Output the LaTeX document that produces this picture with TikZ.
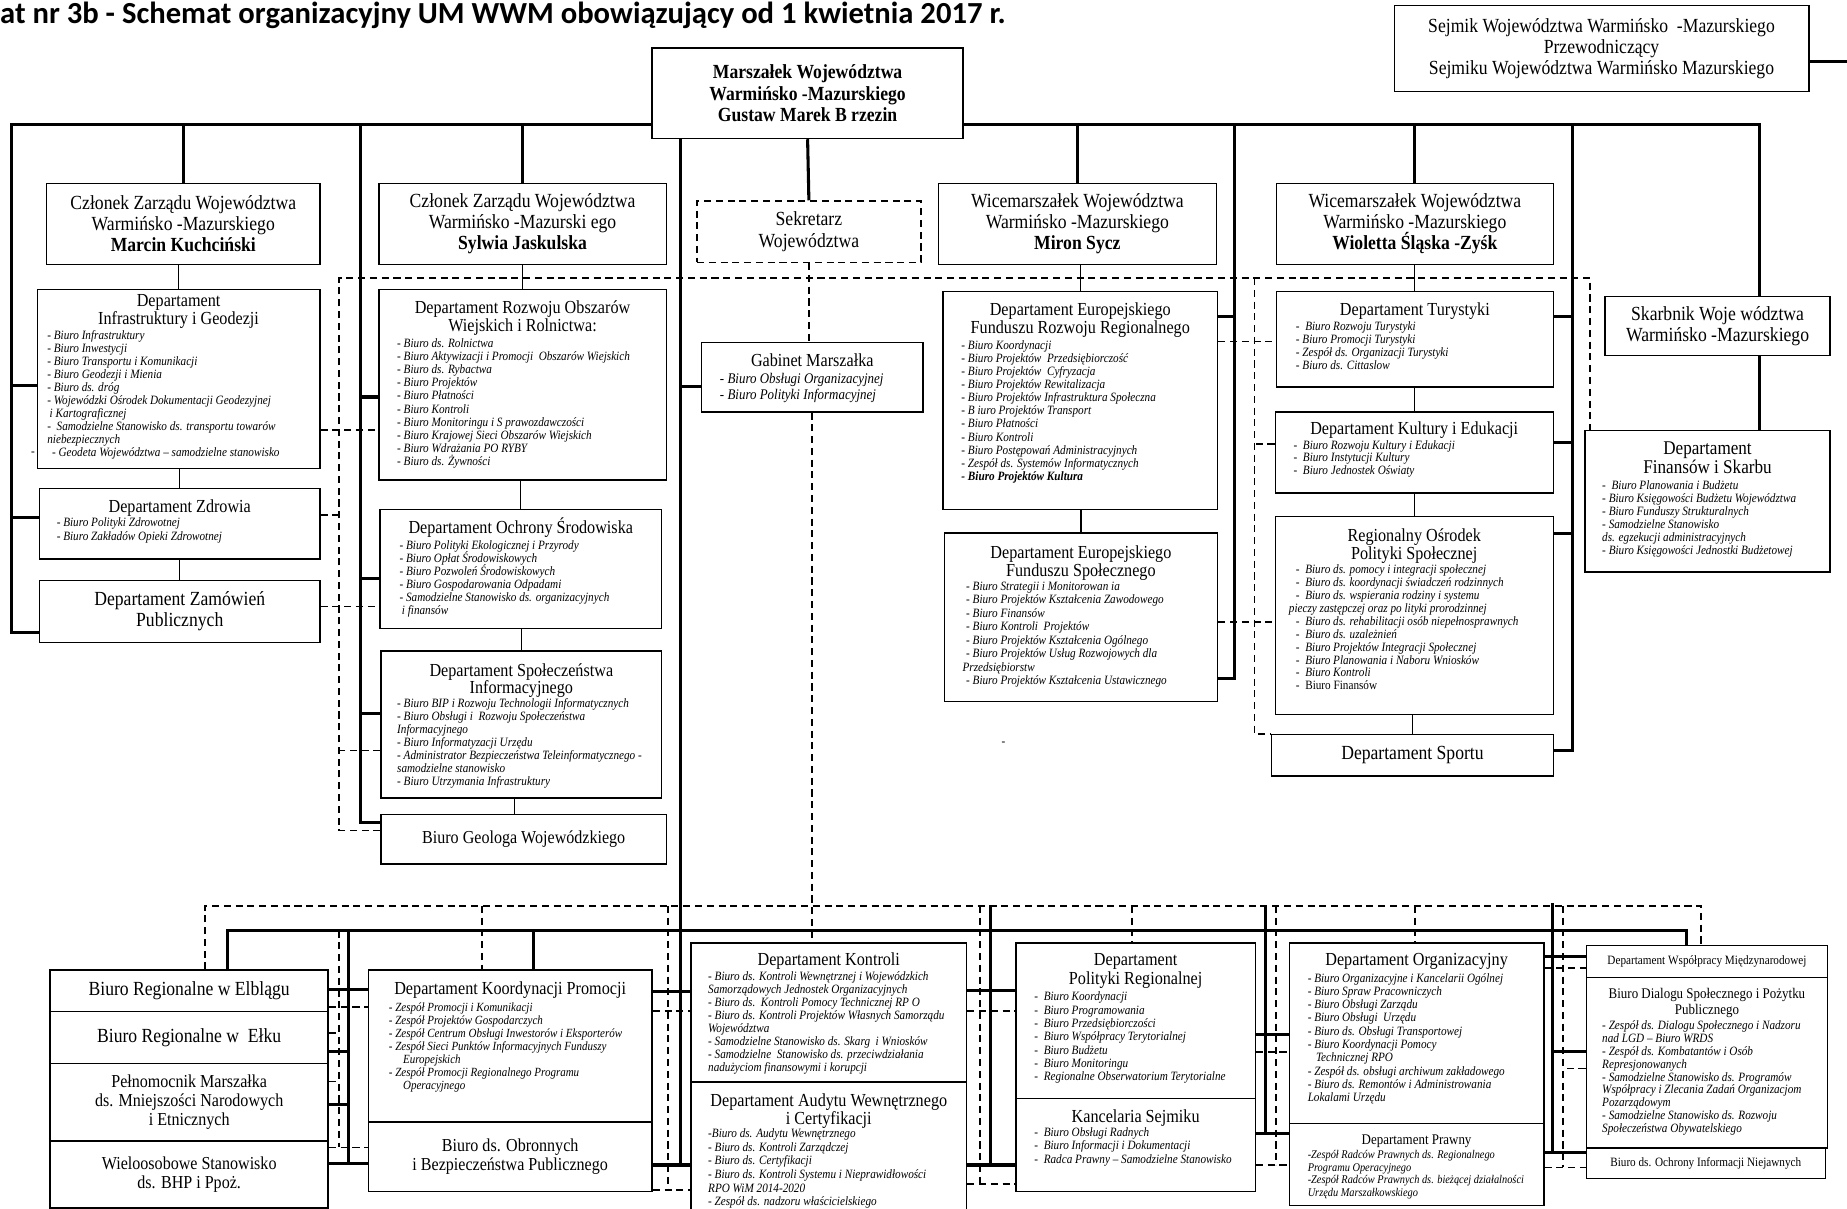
\documentclass[tikz,border=0pt]{standalone}
\usepackage{fontspec}
\setmainfont{Liberation Serif}[FakeStretch=0.88]
\newfontfamily\carlito{Carlito}
\usepackage{tikz}
\lineskiplimit=-100pt

\tikzset{
	box/.style = {draw, line width=1.2pt, inner sep=0pt, anchor=north west},
	person/.style = {box, align=center, font=\fontsize{17}{18}\selectfont},
	dept/.style = {box, align=center, font=\fontsize{15.5}{16}\selectfont},
	ttl/.style = {inner sep=0pt, anchor=north, align=center, font=\fontsize{15.6}{15}\selectfont},
	lst/.style = {inner sep=0pt, anchor=north west, align=left, font=\fontsize{10.8}{11.2}\selectfont\itshape},
	bar/.style = {line width=2.6pt},
	link/.style = {line width=1.1pt},
	dashline/.style = {line width=1.4pt, dash pattern=on 6pt off 4pt}
}

\begin{document}
\begin{tikzpicture}[x=1pt, y=1pt]
	\useasboundingbox (0,0) rectangle (1568,-1026);
	\fill[white] (0,0) rectangle (1568,-1026);

	\node[anchor=base west, inner sep=0pt, font=\carlito\bfseries\fontsize{26}{30}\selectfont] (title) at (0,-20) {at nr 3b - Schemat organizacyjny UM WWM obowiązujący od 1 kwietnia 2017 r.};

	\node[person, minimum width=352, minimum height=73] (sejmik) at (1183,-4) {Sejmik Województwa Warmińsko\ \ -Mazurskiego\\Przewodniczący\\Sejmiku Województwa Warmińsko Mazurskiego};
	\node[person, font=\fontsize{17}{18}\selectfont\bfseries, minimum width=264, minimum height=77] (marsz) at (553,-40) {Marszałek Województwa\\Warmińsko -Mazurskiego\\Gustaw Marek B rzezin};
	\node[person, minimum width=232, minimum height=69] (czl1) at (39,-155) {Członek Zarządu Województwa\\Warmińsko -Mazurskiego\\\textbf{Marcin Kuchciński}};
	\node[person, minimum width=244, minimum height=69] (czl2) at (321,-155) {Członek Zarządu Województwa\\Warmińsko -Mazurski ego\\\textbf{Sylwia Jaskulska}};
	\node[person, dashline, minimum width=190, minimum height=52] (sekr) at (591,-170) {Sekretarz\\Województwa};
	\node[person, minimum width=236, minimum height=69] (wice1) at (796,-155) {Wicemarszałek Województwa\\Warmińsko -Mazurskiego\\\textbf{Miron Sycz}};
	\node[person, minimum width=235, minimum height=69] (wice2) at (1083,-155) {Wicemarszałek Województwa\\Warmińsko -Mazurskiego\\\textbf{Wioletta Śląska -Zyśk}};
	\node[person, minimum width=191, minimum height=50] (skarb) at (1362,-251) {Skarbnik Woje wództwa\\Warmińsko -Mazurskiego};

	\node[box, minimum width=240, minimum height=152] (infra) at (31,-245) {};
	\node[ttl] (infra-t) at ([yshift=-5]infra.north) {Departament\\Infrastruktury i Geodezji};
	\node[lst, font=\fontsize{10.8}{11.1}\selectfont\itshape] (infra-l) at ([xshift=9,yshift=-35]infra.north west) {- Biuro Infrastruktury\\- Biuro Inwestycji\\- Biuro Transportu i Komunikacji\\- Biuro Geodezji i Mienia\\- Biuro ds. dróg\\- Wojewódzki Ośrodek Dokumentacji Geodezyjnej\\\hspace*{2pt}i Kartograficznej\\-\ \ Samodzielne Stanowisko ds. transportu towarów\\niebezpiecznych\\\hspace*{4pt}- Geodeta Województwa – samodzielne stanowisko};
	\node[inner sep=0pt, font=\fontsize{10.8}{11}\selectfont] (art1) at (28,-385) {-};
	\node[box, minimum width=238, minimum height=60] (zdrow) at (33,-414) {};
	\node[ttl] (zdrow-t) at ([yshift=-10]zdrow.north) {Departament Zdrowia};
	\node[lst, font=\fontsize{10.8}{12}\selectfont\itshape] (zdrow-l) at ([xshift=15,yshift=-25]zdrow.north west) {- Biuro Polityki Zdrowotnej\\- Biuro Zakładów Opieki Zdrowotnej};
	\node[person, minimum width=238, minimum height=53] (zamow) at (33,-492) {Departament Zamówień\\Publicznych};

	\node[box, minimum width=244, minimum height=162] (rozw) at (321,-245) {};
	\node[ttl] (rozw-t) at ([yshift=-10]rozw.north) {Departament Rozwoju Obszarów\\Wiejskich i Rolnictwa:};
	\node[lst] (rozw-l) at ([xshift=16,yshift=-42]rozw.north west) {- Biuro ds. Rolnictwa\\- Biuro Aktywizacji i Promocji\ \ Obszarów Wiejskich\\- Biuro ds. Rybactwa\\- Biuro Projektów\\- Biuro Płatności\\- Biuro Kontroli\\- Biuro Monitoringu i S prawozdawczości\\- Biuro Krajowej Sieci Obszarów Wiejskich\\- Biuro Wdrażania PO RYBY\\- Biuro ds. Żywności};
	\node[box, minimum width=239, minimum height=101] (ochr) at (322,-432) {};
	\node[ttl] (ochr-t) at ([yshift=-7]ochr.north) {Departament Ochrony Środowiska};
	\node[lst, font=\fontsize{10.8}{11}\selectfont\itshape] (ochr-l) at ([xshift=17,yshift=-27]ochr.north west) {- Biuro Polityki Ekologicznej i Przyrody\\- Biuro Opłat Środowiskowych\\- Biuro Pozwoleń Środowiskowych\\- Biuro Gospodarowania Odpadami\\- Samodzielne Stanowisko ds. organizacyjnych\\\hspace*{2pt}i finansów};
	\node[box, minimum width=238, minimum height=125] (spol) at (323,-552) {};
	\node[ttl] (spol-t) at ([yshift=-11]spol.north) {Departament Społeczeństwa\\Informacyjnego};
	\node[lst, font=\fontsize{10.8}{11}\selectfont\itshape] (spol-l) at ([xshift=14,yshift=-41]spol.north west) {- Biuro BIP i Rozwoju Technologii Informatycznych\\- Biuro Obsługi i\ \ Rozwoju Społeczeństwa\\Informacyjnego\\- Biuro Informatyzacji Urzędu\\- Administrator Bezpieczeństwa Teleinformatycznego -\\samodzielne stanowisko\\- Biuro Utrzymania Infrastruktury};
	\node[dept, minimum width=242, minimum height=42] (geol) at (323,-691) {Biuro Geologa Wojewódzkiego};

	\node[box, minimum width=188, minimum height=59] (gab) at (595,-290) {};
	\node[ttl] (gab-t) at ([yshift=-10]gab.north) {Gabinet Marszałka};
	\node[lst, font=\fontsize{12.5}{13}\selectfont\itshape] (gab-l) at ([xshift=16,yshift=-27]gab.north west) {- Biuro Obsługi Organizacyjnej\\- Biuro Polityki Informacyjnej};

	\node[box, minimum width=233, minimum height=185] (efrr) at (800,-247) {};
	\node[ttl] (efrr-t) at ([yshift=-10]efrr.north) {Departament Europejskiego\\Funduszu Rozwoju Regionalnego};
	\node[lst, font=\fontsize{10.8}{11.1}\selectfont\itshape] (efrr-l) at ([xshift=16,yshift=-42]efrr.north west) {- Biuro Koordynacji\\- Biuro Projektów\ \ Przedsiębiorczość\\- Biuro Projektów\ \ Cyfryzacja\\- Biuro Projektów Rewitalizacja\\- Biuro Projektów Infrastruktura Społeczna\\- B iuro Projektów Transport\\- Biuro Płatności\\- Biuro Kontroli\\- Biuro Postępowań Administracyjnych\\- Zespół ds. Systemów Informatycznych\\{\bfseries - Biuro Projektów Kultura}};
	\node[box, minimum width=232, minimum height=143] (efs) at (801,-452) {};
	\node[ttl] (efs-t) at ([yshift=-11]efs.north) {Departament Europejskiego\\Funduszu Społecznego};
	\node[lst, font=\fontsize{10.8}{11.4}\selectfont\itshape] (efs-l) at ([xshift=19,yshift=-42]efs.north west) {- Biuro Strategii i Monitorowan ia\\- Biuro Projektów Kształcenia Zawodowego\\- Biuro Finansów\\- Biuro Kontroli\ \ Projektów\\- Biuro Projektów Kształcenia Ogólnego\\- Biuro Projektów Usług Rozwojowych dla\\\hspace*{-3pt}Przedsiębiorstw\\- Biuro Projektów Kształcenia Ustawicznego};
	\node[inner sep=0pt, font=\fontsize{10.8}{11}\selectfont] (art2) at (852,-631) {-};

	\node[box, minimum width=235, minimum height=81] (tur) at (1083,-247) {};
	\node[ttl] (tur-t) at ([yshift=-10]tur.north) {Departament Turystyki};
	\node[lst, font=\fontsize{10.8}{11}\selectfont\itshape] (tur-l) at ([xshift=17,yshift=-26]tur.north west) {-\ \ Biuro Rozwoju Turystyki\\- Biuro Promocji Turystyki\\- Zespół ds. Organizacji Turystyki\\- Biuro ds. Cittaslow};
	\node[box, minimum width=236, minimum height=69] (kult) at (1082,-349) {};
	\node[ttl] (kult-t) at ([yshift=-9]kult.north) {Departament Kultury i Edukacji};
	\node[lst, font=\fontsize{10.8}{10.5}\selectfont\itshape] (kult-l) at ([xshift=16,yshift=-25]kult.north west) {-\ \ Biuro Rozwoju Kultury i Edukacji\\-\ \ Biuro Instytucji Kultury\\-\ \ Biuro Jednostek Oświaty};
	\node[box, minimum width=236, minimum height=168] (rops) at (1082,-438) {};
	\node[ttl] (rops-t) at ([yshift=-11]rops.north) {Regionalny Ośrodek\\Polityki Społecznej};
	\node[lst, font=\fontsize{10.8}{11}\selectfont\itshape] (rops-l) at ([xshift=18,yshift=-41]rops.north west) {-\ \ Biuro ds. pomocy i integracji społecznej\\-\ \ Biuro ds. koordynacji świadczeń rodzinnych\\-\ \ Biuro ds. wspierania rodziny i systemu\\\hspace*{-6pt}pieczy zastępczej oraz po lityki prorodzinnej\\-\ \ Biuro ds. rehabilitacji osób niepełnosprawnych\\-\ \ Biuro ds. uzależnień\\-\ \ Biuro Projektów Integracji Społecznej\\-\ \ Biuro Planowania i Naboru Wniosków\\-\ \ Biuro Kontroli\\{\upshape -\ \ Biuro Finansów}};
	\node[person, minimum width=239, minimum height=35] (sport) at (1079,-623) {Departament Sportu};

	\node[box, minimum width=208, minimum height=120] (finans) at (1345,-365) {};
	\node[ttl, font=\fontsize{16.5}{16}\selectfont] (finans-t) at ([yshift=-10]finans.north) {Departament\\Finansów i Skarbu};
	\node[lst, font=\fontsize{10.8}{11}\selectfont\itshape] (finans-l) at ([xshift=15,yshift=-43]finans.north west) {-\ \ Biuro Planowania i Budżetu\\- Biuro Księgowości Budżetu Województwa\\- Biuro Funduszy Strukturalnych\\- Samodzielne Stanowisko\\ds. egzekucji administracyjnych\\- Biuro Księgowości Jednostki Budżetowej};

	\node[person, minimum width=236, minimum height=35] (elb) at (42,-823) {Biuro Regionalne w Elblągu};
	\node[person, minimum width=236, minimum height=44] (elk) at (42,-858) {Biuro Regionalne w\ \ Ełku};
	\node[dept, minimum width=236, minimum height=66] (peln) at (42,-902) {Pełnomocnik Marszałka\\ds. Mniejszości Narodowych\\i Etnicznych};
	\node[dept, minimum width=236, minimum height=57] (bhp) at (42,-968) {Wieloosobowe Stanowisko\\ds. BHP i Ppoż.};

	\node[box, minimum width=241, minimum height=129] (koord) at (312,-823) {};
	\node[ttl] (koord-t) at ([yshift=-10]koord.north) {Departament Koordynacji Promocji};
	\node[lst, font=\fontsize{10.6}{11}\selectfont\itshape] (koord-l) at ([xshift=18,yshift=-28]koord.north west) {- Zespół Promocji i Komunikacji\\- Zespół Projektów Gospodarczych\\- Zespół Centrum Obsługi Inwestorów i Eksporterów\\- Zespół Sieci Punktów Informacyjnych Funduszy\\\hspace*{12pt}Europejskich\\- Zespół Promocji Regionalnego Programu\\\hspace*{12pt}Operacyjnego};
	\node[dept, minimum width=241, minimum height=59] (obron) at (312,-952) {Biuro ds. Obronnych\\i Bezpieczeństwa Publicznego};

	\node[box, minimum width=234, minimum height=118] (kontr) at (586,-800) {};
	\node[ttl] (kontr-t) at ([yshift=-9]kontr.north) {Departament Kontroli};
	\node[lst, font=\fontsize{10.8}{11}\selectfont\itshape] (kontr-l) at ([xshift=15,yshift=-25]kontr.north west) {- Biuro ds. Kontroli Wewnętrznej i Wojewódzkich\\Samorządowych Jednostek Organizacyjnych\\- Biuro ds.\ \ Kontroli Pomocy Technicznej RP O\\- Biuro ds. Kontroli Projektów Własnych Samorządu\\Województwa\\- Samodzielne Stanowisko ds. Skarg\ \ i Wniosków\\- Samodzielne\ \ Stanowisko ds. przeciwdziałania\\nadużyciom finansowymi i korupcji};
	\node[box, minimum width=234, minimum height=115] (audyt) at (586,-918) {};
	\node[ttl, font=\fontsize{15.6}{16}\selectfont] (audyt-t) at ([yshift=-10]audyt.north) {Departament Audytu Wewnętrznego\\i Certyfikacji};
	\node[lst, font=\fontsize{10.8}{11.6}\selectfont\itshape] (audyt-l) at ([xshift=15,yshift=-40]audyt.north west) {-Biuro ds. Audytu Wewnętrznego\\- Biuro ds. Kontroli Zarządczej\\- Biuro ds. Certyfikacji\\- Biuro ds. Kontroli Systemu i Nieprawidłowości\\RPO WiM 2014-2020\\- Zespół ds. nadzoru właścicielskiego};

	\node[box, minimum width=203, minimum height=132] (polreg) at (862,-800) {};
	\node[ttl, font=\fontsize{15.6}{16}\selectfont] (polreg-t) at ([yshift=-9]polreg.north) {Departament\\Polityki Regionalnej};
	\node[lst, font=\fontsize{10.8}{11.3}\selectfont\itshape] (polreg-l) at ([xshift=16,yshift=-42]polreg.north west) {-\ \ Biuro Koordynacji\\-\ \ Biuro Programowania\\-\ \ Biuro Przedsiębiorczości\\-\ \ Biuro Współpracy Terytorialnej\\-\ \ Biuro Budżetu\\-\ \ Biuro Monitoringu\\-\ \ Regionalne Obserwatorium Terytorialne};
	\node[box, minimum width=203, minimum height=79] (kanc) at (862,-932) {};
	\node[ttl] (kanc-t) at ([yshift=-10]kanc.north) {Kancelaria Sejmiku};
	\node[lst, font=\fontsize{10.8}{11.5}\selectfont\itshape] (kanc-l) at ([xshift=16,yshift=-25]kanc.north west) {-\ \ Biuro Obsługi Radnych\\-\ \ Biuro Informacji i Dokumentacji\\-\ \ Radca Prawny – Samodzielne Stanowisko};

	\node[box, minimum width=216, minimum height=153] (org) at (1094,-800) {};
	\node[ttl] (org-t) at ([yshift=-9]org.north) {Departament Organizacyjny};
	\node[lst, font=\fontsize{10.8}{11.3}\selectfont\itshape] (org-l) at ([xshift=16,yshift=-26]org.north west) {- Biuro Organizacyjne i Kancelarii Ogólnej\\- Biuro Spraw Pracowniczych\\- Biuro Obsługi Zarządu\\- Biuro Obsługi\ \ Urzędu\\- Biuro ds. Obsługi Transportowej\\- Biuro Koordynacji Pomocy\\\hspace*{7pt}Technicznej RPO\\- Zespół ds. obsługi archiwum zakładowego\\- Biuro ds. Remontów i Administrowania\\Lokalami Urzędu};
	\node[box, minimum width=216, minimum height=70] (prawny) at (1094,-953) {};
	\node[ttl, font=\fontsize{12.5}{13}\selectfont] (prawny-t) at ([yshift=-10]prawny.north) {Departament Prawny};
	\node[lst, font=\fontsize{10}{10.7}\selectfont\itshape] (prawny-l) at ([xshift=16,yshift=-23.5]prawny.north west) {-Zespół Radców Prawnych ds. Regionalnego\\Programu Operacyjnego\\-Zespół Radców Prawnych ds. bieżącej działalności\\Urzędu Marszałkowskiego};

	\node[box, align=center, font=\fontsize{10.8}{11}\selectfont, minimum width=205, minimum height=27] (mpn) at (1346,-802) {Departament Współpracy Międzynarodowej};
	\node[box, minimum width=205, minimum height=145] (dial) at (1346,-829) {};
	\node[ttl, font=\fontsize{12.5}{13}\selectfont] (dial-t) at ([yshift=-10]dial.north) {Biuro Dialogu Społecznego i Pożytku\\Publicznego};
	\node[lst, font=\fontsize{10.8}{11}\selectfont\itshape] (dial-l) at ([xshift=14,yshift=-37]dial.north west) {- Zespół ds. Dialogu Społecznego i Nadzoru\\nad LGD – Biuro WRDS\\- Zespół ds. Kombatantów i Osób\\Represjonowanych\\- Samodzielne Stanowisko ds. Programów\\Współpracy i Zlecania Zadań Organizacjom\\Pozarządowym\\- Samodzielne Stanowisko ds. Rozwoju\\Społeczeństwa Obywatelskiego};
	\node[box, align=center, font=\fontsize{10.8}{11}\selectfont, minimum width=203, minimum height=26] (oin) at (1346,-974) {Biuro ds. Ochrony Informacji Niejawnych};

	\coordinate (tL) at (10,-106);
	\coordinate (tJ) at (306,-106);
	\coordinate (tS) at (1048,-106);
	\coordinate (tW) at (1335,-106);
	\coordinate (tR) at (1494,-106);
	\coordinate (mB) at (578,-989);
	\coordinate (sejE) at (1568,-52);
	\coordinate (dTL) at (288,-236);
	\coordinate (dTR) at (1350,-236);
	\coordinate (dTS) at (1065,-236);
	\coordinate (bL) at (193,-790);
	\coordinate (bR) at (1432,-790);
	\coordinate (bK) at (453,-790);
	\coordinate (bS1) at (296,-790);
	\coordinate (bS2) at (841,-769);
	\coordinate (bS3) at (1074,-769);
	\coordinate (bS4) at (1318,-767);
	\coordinate (dL) at (174,-769);
	\coordinate (dR) at (1444,-769);
	\coordinate (dK) at (409,-769);
	\coordinate (dS1) at (288,-790);
	\coordinate (dS2) at (567,-769);
	\coordinate (dS3) at (832,-769);
	\coordinate (dP) at (961,-769);
	\coordinate (dS4) at (1083,-769);
	\coordinate (dO) at (1201,-769);
	\coordinate (dS5) at (1327,-769);

	\draw[bar] (tL -| marsz.west) -- (tL) |- ([yshift=-45]zamow.north west);
	\draw[bar] ([yshift=-82]infra.north west) -- ([yshift=-82]infra.north west -| tL);
	\draw[bar] ([yshift=-25]zdrow.north west) -- ([yshift=-25]zdrow.north west -| tL);
	\draw[bar] (tL -| marsz.east) -- (tR) -- (tR |- skarb.north);
	\draw[bar] (tR |- skarb.south) -- (tR |- finans.north);
	\draw[bar] (czl1.north) -- (czl1.north |- tL);
	\draw[bar] (czl2.north) -- (czl2.north |- tL);
	\draw[bar] (wice1.north) -- (wice1.north |- tL);
	\draw[bar] (wice2.north) -- (wice2.north |- tL);
	\draw[bar] (marsz.south) -- (sekr.north);
	\draw[bar] ([yshift=-48]sejmik.north east) -- (sejE);

	\draw[bar] (tJ) |- ([yshift=-7]geol.north west);
	\draw[bar] ([yshift=-92]rozw.north west) -- ([yshift=-92]rozw.north west -| tJ);
	\draw[bar] ([yshift=-59]ochr.north west) -- ([yshift=-59]ochr.north west -| tJ);
	\draw[bar] ([yshift=-54]spol.north west) -- ([yshift=-54]spol.north west -| tJ);

	\draw[bar] (marsz.south -| mB) -- (mB);
	\draw[bar] ([yshift=-38]gab.north west) -- ([yshift=-38]gab.north west -| mB);
	\draw[bar] ([yshift=-19]koord.north east) -- ([yshift=-42]kontr.north west);
	\draw[bar] ([yshift=-37]obron.north east) -- ([yshift=-71]audyt.north west);

	\draw[bar] (tS) |- ([yshift=-124]efs.north east);
	\draw[bar] ([yshift=-22]efrr.north east) -- ([yshift=-22]efrr.north east -| tS);

	\draw[bar] (tW) |- ([yshift=-14]sport.north east);
	\draw[bar] ([yshift=-22]tur.north east) -- ([yshift=-22]tur.north east -| tW);
	\draw[bar] ([yshift=-27]kult.north east) -- ([yshift=-27]kult.north east -| tW);
	\draw[bar] ([yshift=-15]rops.north east) -- ([yshift=-15]rops.north east -| tW);

	\draw[link] (infra.north |- czl1.south) -- (infra.north);
	\draw[link] (zdrow.north |- infra.south) -- (zdrow.north);
	\draw[link] (zamow.north |- zdrow.south) -- (zamow.north);
	\draw[link] (rozw.north |- czl2.south) -- (rozw.north);
	\draw[link] (ochr.north |- rozw.south) -- (ochr.north);
	\draw[link] (spol.north |- ochr.south) -- (spol.north);
	\draw[link] ([xshift=-8]geol.north |- spol.south) -- ([xshift=-8]geol.north);
	\draw[link] (efrr.north |- wice1.south) -- (efrr.north);
	\draw[link] (efs.north |- efrr.south) -- (efs.north);
	\draw[link] (tur.north |- wice2.south) -- (tur.north);
	\draw[link] (kult.north |- tur.south) -- (kult.north);
	\draw[link] (rops.north |- kult.south) -- (rops.north);
	\draw[link] (sport.north |- rops.south) -- (sport.north);

	\draw[dashline] (sekr.south) -- (sekr.south |- gab.north);
	\draw[dashline] (gab.south) -- (gab.south |- kontr.north);
	\draw[dashline] ([yshift=-14]geol.north west) -| (dTL) -- (dTR) -- (dTR |- finans.north);
	\draw[dashline] (dTS) |- (sport.north west);
	\draw[dashline] ([yshift=-120]infra.north east) -- ([yshift=-120]rozw.north west);
	\draw[dashline] ([yshift=-23]zdrow.north east) -- ([yshift=-23]zdrow.north east -| dTL);
	\draw[dashline] ([yshift=-23]zamow.north east) -- ([yshift=-83]ochr.north west);
	\draw[dashline] ([yshift=-85]spol.north west) -- ([yshift=-85]spol.north west -| dTL);
	\draw[dashline] ([yshift=-43]efrr.north east) -- ([yshift=-43]tur.north west);
	\draw[dashline] ([yshift=-28]kult.north west) -- ([yshift=-28]kult.north west -| dTS);
	\draw[dashline] ([yshift=-76]efs.north east) -- ([yshift=-90]rops.north west);

	\draw[bar] (elb.north -| bL) -- (bL) -- (bR) -- (bR |- mpn.north);
	\draw[bar] (bK) -- (bK |- koord.north);
	\draw[bar] (bS1) -- ([yshift=-20]bhp.north east -| bS1);
	\draw[bar] ([yshift=-17]elb.north east) -- ([yshift=-17]koord.north west);
	\draw[bar] ([yshift=-35]elk.north east) -- ([yshift=-35]elk.north east -| bS1);
	\draw[bar] ([yshift=-36]peln.north east) -- ([yshift=-36]peln.north east -| bS1);
	\draw[bar] ([yshift=-20]bhp.north east) -- ([yshift=-36]obron.north west);
	\draw[bar] (bS2) -- ([yshift=-71]audyt.north east -| bS2);
	\draw[bar] ([yshift=-41]kontr.north east) -- ([yshift=-41]polreg.north west);
	\draw[bar] ([yshift=-71]audyt.north east) -- ([yshift=-57]kanc.north west);
	\draw[bar] (bS3) -- ([yshift=-30]kanc.north east -| bS3);
	\draw[bar] ([yshift=-78]polreg.north east) -- ([yshift=-78]org.north west);
	\draw[bar] ([yshift=-30]kanc.north east) -- ([yshift=-9]prawny.north west);
	\draw[bar] (bS4) -- ([yshift=-25]prawny.north east -| bS4);
	\draw[bar] ([yshift=-12]org.north east) -- ([yshift=-10]mpn.north west);
	\draw[bar] ([yshift=-64]dial.north west) -- ([yshift=-64]dial.north west -| bS4);
	\draw[bar] ([yshift=-25]prawny.north east) -- ([yshift=-4]oin.north west);

	\draw[dashline] (elb.north -| dL) -- (dL) -- (dR) -- (dR |- mpn.north);
	\draw[dashline] (dK) -- (dK |- koord.north);
	\draw[dashline] (dP) -- (dP |- polreg.north);
	\draw[dashline] (dO) -- (dO |- org.north);
	\draw[dashline] (dS1) -- ([yshift=-6]bhp.north east -| dS1);
	\draw[dashline] ([yshift=-32]elb.north east) -- ([yshift=-32]koord.north west);
	\draw[dashline] ([yshift=-19]elk.north east) -- ([yshift=-19]elk.north east -| dS1);
	\draw[dashline] ([yshift=-16]peln.north east) -- ([yshift=-16]peln.north east -| dS1);
	\draw[dashline] ([yshift=-6]bhp.north east) -- ([yshift=-22]obron.north west);
	\draw[dashline] (dS2) -- ([yshift=-58]obron.north east -| dS2);
	\draw[dashline] ([yshift=-35]koord.north east) -- ([yshift=-58]kontr.north west);
	\draw[dashline] ([yshift=-58]obron.north east) -- ([yshift=-92]audyt.north west);
	\draw[dashline] (dS3) -- ([yshift=-87]audyt.north east -| dS3);
	\draw[dashline] ([yshift=-58]kontr.north east) -- ([yshift=-58]polreg.north west);
	\draw[dashline] ([yshift=-87]audyt.north east) -- ([yshift=-73]kanc.north west);
	\draw[dashline] (dS4) -- ([yshift=-57]kanc.north east -| dS4);
	\draw[dashline] ([yshift=-93]polreg.north east) -- ([yshift=-93]org.north west);
	\draw[dashline] ([yshift=-57]kanc.north east) -- ([yshift=-36]prawny.north west);
	\draw[dashline] (dS5) -- ([yshift=-38]prawny.north east -| dS5);
	\draw[dashline] ([yshift=-22]org.north east) -- ([yshift=-20]mpn.north west);
	\draw[dashline] ([yshift=-78]dial.north west) -- ([yshift=-78]dial.north west -| dS5);
	\draw[dashline] ([yshift=-38]prawny.north east) -- ([yshift=-17]oin.north west);
\end{tikzpicture}
\end{document}
